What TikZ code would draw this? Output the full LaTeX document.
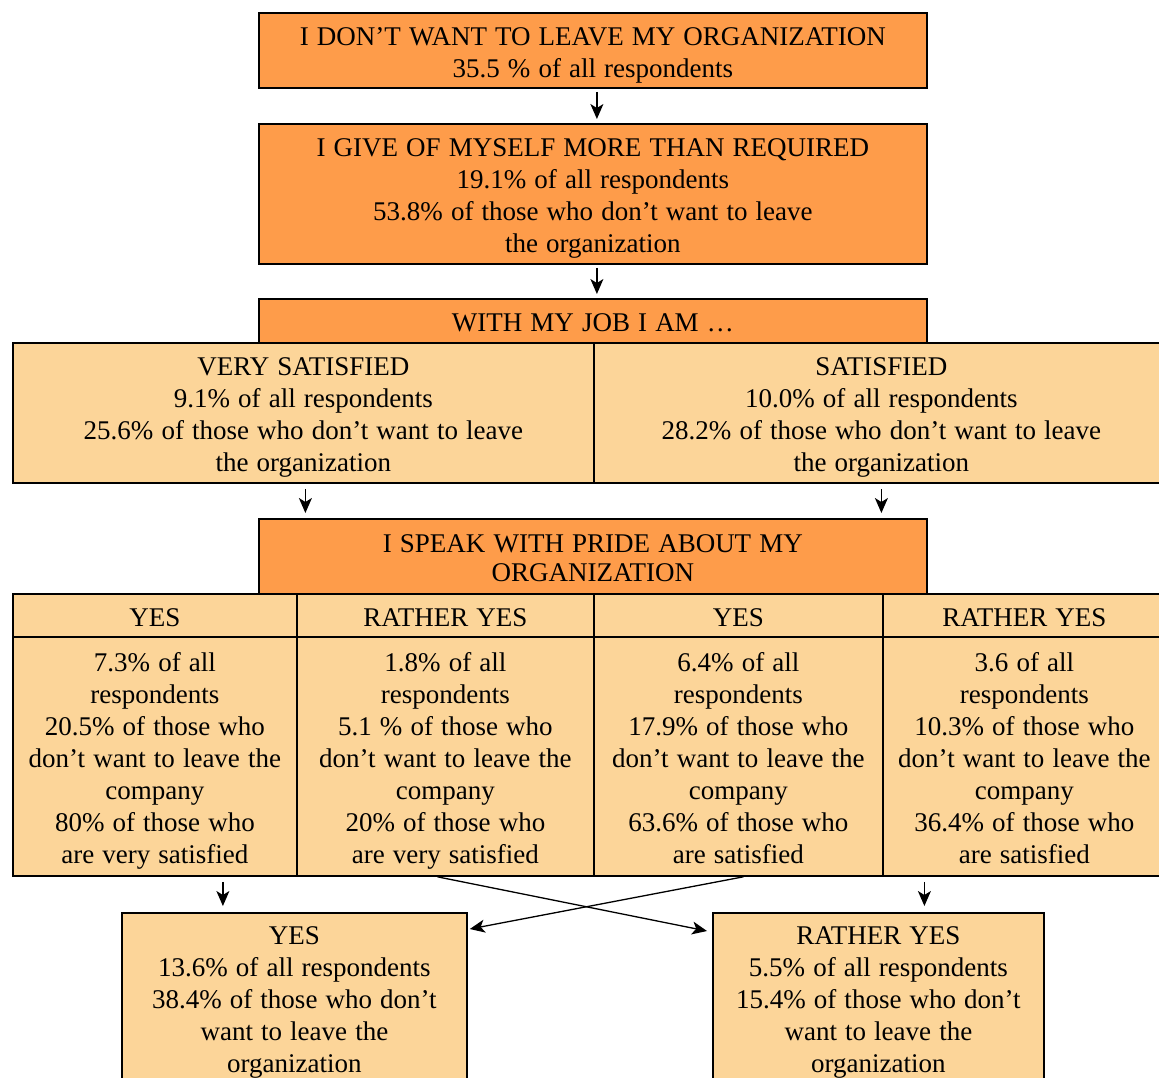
\documentclass[tikz,border=0pt]{standalone}
\usepackage{fontspec}
\setmainfont{Liberation Serif}[WordSpace=1.2]
\usetikzlibrary{arrows.meta}
\definecolor{darkor}{RGB}{254,156,74}
\definecolor{lightor}{RGB}{252,213,153}
\newcommand\tsx{\rule{0pt}{28pt}}
\newcommand\bsx{\rule[-6pt]{0pt}{0pt}}
\begin{document}
\begin{tikzpicture}[x=1pt,y=-1pt,
  font=\fontsize{27}{32}\selectfont,
  box/.style={draw=black, line width=1.8pt, anchor=north west, align=center, inner sep=0pt},
  dbox/.style={box, fill=darkor},
  lbox/.style={box, fill=lightor},
  arr/.style={-{Stealth[length=15pt,width=13pt,inset=4pt]}, line width=1.3pt}]
\useasboundingbox (0,0) rectangle (1159,1077);
\clip (0,0) rectangle (1159,1077);
% top boxes
\node[dbox, minimum width=668pt, minimum height=75pt] (b1) at (258,12)
  {\tsx I DON’T WANT TO LEAVE MY ORGANIZATION\\35.5 \% of all respondents\bsx};
\node[dbox, minimum width=668pt, minimum height=140pt] (b2) at (258,123)
  {\tsx I GIVE OF MYSELF MORE THAN REQUIRED\\19.1\% of all respondents\\53.8\% of those who don’t want to leave\\the organization\bsx};
\node[dbox, minimum width=668pt, minimum height=44pt] (b3) at (258,298)
  {\tsx WITH MY JOB I AM …\bsx};
\node[lbox, minimum width=581pt, minimum height=140pt] (vs) at (12,342)
  {\tsx VERY SATISFIED\\9.1\% of all respondents\\25.6\% of those who don’t want to leave\\the organization\bsx};
\node[lbox, minimum width=575pt, minimum height=140pt] (sa) at (593,342)
  {\tsx SATISFIED\\10.0\% of all respondents\\28.2\% of those who don’t want to leave\\the organization\bsx};
\node[dbox, minimum width=668pt, minimum height=75pt] (b4) at (258,518)
  {\tsx I SPEAK WITH PRIDE ABOUT MY\\[-3pt]ORGANIZATION\bsx};
% header row
\node[lbox, minimum width=284pt, minimum height=43pt] (h1) at (12,593) {\tsx YES\bsx};
\node[lbox, minimum width=297pt, minimum height=43pt] (h2) at (296,593) {\tsx RATHER YES\bsx};
\node[lbox, minimum width=289pt, minimum height=43pt] (h3) at (593,593) {\tsx YES\bsx};
\node[lbox, minimum width=283pt, minimum height=43pt] (h4) at (882,593) {\tsx RATHER YES\bsx};
% body row
\node[lbox, minimum width=284pt, minimum height=239pt] (c1) at (12,636)
  {\tsx 7.3\% of all\\respondents\\20.5\% of those who\\don’t want to leave the\\company\\80\% of those who\\are very satisfied\bsx};
\node[lbox, minimum width=297pt, minimum height=239pt] (c2) at (296,636)
  {\tsx 1.8\% of all\\respondents\\5.1 \% of those who\\don’t want to leave the\\company\\20\% of those who\\are very satisfied\bsx};
\node[lbox, minimum width=289pt, minimum height=239pt] (c3) at (593,636)
  {\tsx 6.4\% of all\\respondents\\17.9\% of those who\\don’t want to leave the\\company\\63.6\% of those who\\are satisfied\bsx};
\node[lbox, minimum width=283pt, minimum height=239pt] (c4) at (882,636)
  {\tsx 3.6 of all\\respondents\\10.3\% of those who\\don’t want to leave the\\company\\36.4\% of those who\\are satisfied\bsx};
% bottom boxes
\node[lbox, minimum width=345pt, minimum height=170pt] (yb) at (121,912)
  {\tsx YES\\13.6\% of all respondents\\38.4\% of those who don’t\\want to leave the\\organization\bsx};
\node[lbox, minimum width=331pt, minimum height=170pt] (rb) at (712,912)
  {\tsx RATHER YES\\5.5\% of all respondents\\15.4\% of those who don’t\\want to leave the\\organization\bsx};
% arrows
\draw[arr, shorten <=3pt, shorten >=4pt] ([xshift=4pt]b1.south) -- ([xshift=4pt]b2.north);
\draw[arr, shorten <=3pt, shorten >=4pt] ([xshift=4pt]b2.south) -- ([xshift=4pt]b3.north);
\draw[arr, shorten <=5pt, shorten >=5pt] ([xshift=2pt]vs.south) -- ([xshift=2pt]vs.south |- b4.north);
\draw[arr, shorten <=5pt, shorten >=5pt] (sa.south) -- (sa.south |- b4.north);
\draw[arr, shorten <=5pt, shorten >=6pt] ([xshift=68pt]c1.south) -- ([xshift=68pt]c1.south |- yb.north);
\draw[arr, shorten <=5pt, shorten >=6pt] ([xshift=-100pt]c4.south) -- ([xshift=-100pt]c4.south |- rb.north);
\draw[arr] ([xshift=-8pt]c2.south) -- ([xshift=-5pt,yshift=-19pt]rb.north west);
\draw[arr] ([xshift=5pt]c3.south) -- ([xshift=2pt,yshift=-17pt]yb.north east);
\end{tikzpicture}
\end{document}
